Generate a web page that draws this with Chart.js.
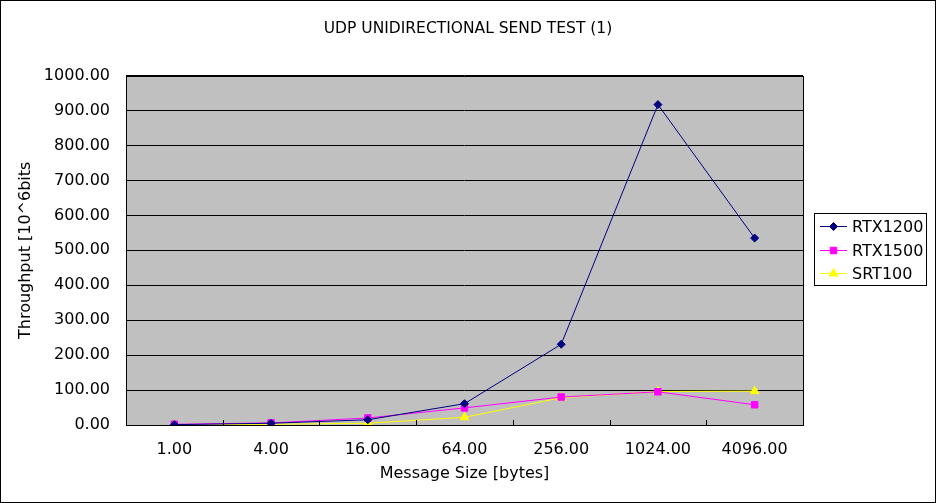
<!doctype html>
<html>
<head>
  <meta charset="utf-8">
  <script src="https://cdn.jsdelivr.net/npm/chart.js@4.4.0/dist/chart.umd.min.js"></script>
  <style>
    html, body { margin: 0; padding: 0; background: #fff; }
    #wrap { width: 936px; height: 503px; }
  </style>
</head>
<body>
  <div id="wrap"><canvas id="myChart" width="936" height="503"></canvas></div>
  <script>
    const categories = ['1.00', '4.00', '16.00', '64.00', '256.00', '1024.00', '4096.00'];
    const rtx1200 = [1, 5, 15, 61, 231, 917, 535];
    const rtx1500 = [2, 6, 20, 49, 80, 95, 58];
    const srt100 = [0, 2, 5, 22, 78, 96, 97];
    const yTicks = { min: 0, max: 1000, step: 100 };

    const FONT = 'DejaVu Sans';

    // 背景・枠線・x軸の内向き目盛・凡例を描く
    const excelLook = {
      id: 'excel_look',
      beforeDraw: (chart) => {
        const ctx = chart.ctx;
        const a = chart.chartArea;
        ctx.save();
        ctx.fillStyle = '#fff';
        ctx.fillRect(0, 0, chart.width, chart.height);
        ctx.fillStyle = '#c0c0c0';
        ctx.fillRect(a.left, a.top, a.right - a.left, a.bottom - a.top);
        ctx.restore();
      },
      afterDraw: (chart) => {
        const ctx = chart.ctx;
        const a = chart.chartArea;
        ctx.save();
        ctx.strokeStyle = '#000';
        ctx.lineWidth = 1;
        ctx.strokeRect(0.5, 0.5, chart.width - 1, chart.height - 1);
        ctx.strokeRect(Math.round(a.left) + 0.5, Math.round(a.top) + 0.5,
          Math.round(a.right - a.left), Math.round(a.bottom - a.top));
        // x軸の目盛(区切り位置、内側)
        const n = categories.length;
        const w = (a.right - a.left) / n;
        ctx.beginPath();
        for (let i = 1; i < n; i++) {
          const x = Math.round(a.left + w * i) + 0.5;
          ctx.moveTo(x, a.bottom);
          ctx.lineTo(x, a.bottom - 5);
        }
        ctx.stroke();
        // 凡例
        const lx = 814, ly = 213, lw = 112, lh = 72;
        ctx.fillStyle = '#fff';
        ctx.fillRect(lx, ly, lw, lh);
        ctx.strokeRect(lx + 0.5, ly + 0.5, lw, lh);
        ctx.font = '16px "' + FONT + '"';
        ctx.textBaseline = 'middle';
        chart.data.datasets.forEach((ds, i) => {
          const y = Math.round(ly + 13 + i * 23.5) + 0.5;
          ctx.strokeStyle = ds.borderColor;
          ctx.beginPath();
          ctx.moveTo(820, y);
          ctx.lineTo(847, y);
          ctx.stroke();
          ctx.fillStyle = ds.backgroundColor;
          Chart.helpers.drawPoint(ctx, {
            pointStyle: ds.pointStyle, radius: ds.pointRadius, borderWidth: 1
          }, 833.5, y);
          ctx.fillStyle = '#000';
          ctx.fillText(ds.label, 852, y + 1);
        });
        ctx.restore();
      }
    };

    function series(label, data, color, style, r) {
      return {
        label, data, yAxisID: 'y',
        borderColor: color, backgroundColor: color,
        pointBackgroundColor: color, pointBorderColor: color,
        borderWidth: 1, pointStyle: style, pointRadius: r,
        pointHoverRadius: r, tension: 0
      };
    }

    const ctx = document.getElementById('myChart').getContext('2d');
    const myChart = new Chart(ctx, {
      type: 'line',
      data: {
        labels: categories,
        datasets: [
          series('RTX1200', rtx1200, '#000080', 'rectRot', 4),
          series('RTX1500', rtx1500, '#ff00ff', 'rect', 4.6),
          series('SRT100', srt100, '#ffff00', 'triangle', 5)
        ]
      },
      options: {
        responsive: false,
        animation: false,
        events: [],
        plugins: {
          legend: { display: false },
          tooltip: { enabled: false },
          title: {
            display: true,
            text: 'UDP UNIDIRECTIONAL SEND TEST (1)',
            color: '#000',
            font: { family: FONT, size: 15.5, weight: 'normal' },
            padding: { top: 20, bottom: 37 }
          }
        },
        scales: {
          x: {
            offset: true,
            afterFit: (s) => { s.height = 78; },
            grid: { display: false, drawTicks: false },
            border: { display: false },
            ticks: {
              color: '#000', padding: 15, maxRotation: 0, autoSkip: false,
              font: { family: FONT, size: 16 }
            },
            title: {
              display: true, text: 'Message Size [bytes]', color: '#000',
              font: { family: FONT, size: 16 }, padding: { top: 0, bottom: 20 }
            }
          },
          y: {
            min: yTicks.min, max: yTicks.max,
            afterFit: (s) => { s.width = 126; },
            grid: { color: '#000', lineWidth: 1, drawTicks: false },
            border: { display: false },
            ticks: {
              stepSize: yTicks.step, color: '#000', padding: 16,
              font: { family: FONT, size: 16 },
              callback: (v) => Number(v).toFixed(2)
            },
            title: {
              display: true, text: 'Throughput [10^6bits', color: '#000',
              font: { family: FONT, size: 16 }, padding: { top: 16, bottom: 0 }
            }
          },
          // 凡例用の右側の余白
          gap: {
            position: 'right', type: 'linear', display: true,
            afterFit: (s) => { s.width = 133; },
            grid: { display: false, drawTicks: false },
            border: { display: false },
            ticks: { display: false }
          }
        }
      },
      plugins: [excelLook]
    });
  </script>
</body>
</html>
